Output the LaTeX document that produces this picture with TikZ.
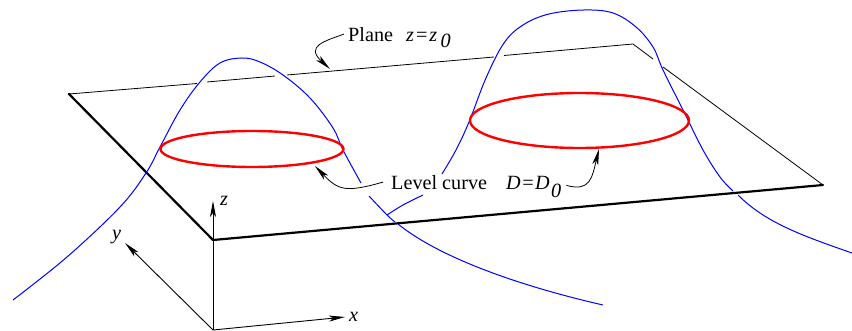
\documentclass[tikz,border=0pt]{standalone}
\usepackage{fontspec}
\setmainfont{Liberation Serif}
\usetikzlibrary{arrows.meta}
\tikzset{
  lbl/.style={anchor=base west,inner sep=0pt,font=\fontsize{20.2}{22}\selectfont},
  lblit/.style={lbl,font=\fontsize{20.2}{22}\selectfont\itshape},
  edgethin/.style={black,line width=0.8pt},
  edgethick/.style={black,line width=2.2pt,line cap=round,line join=round},
  profile/.style={blue,line width=1pt},
  levelcurve/.style={red,line width=2.4pt},
  axis/.style={black,line width=0.9pt,-{Stealth[length=16pt,width=6pt,inset=4pt]}},
  leader/.style={black,line width=0.8pt,-{Stealth[length=16pt,width=6pt,inset=4pt]}}
}
\begin{document}
\begin{tikzpicture}[x=1pt,y=-1pt]
  \useasboundingbox (0,0) rectangle (852,331);

  % --- Plane corners ---
  \coordinate (pA) at (69,94);
  \coordinate (pB) at (633,44);
  \coordinate (pC) at (823,185);
  \coordinate (pD) at (213,240);

  % --- Plane, back edges with breaks ---
  \draw[edgethin] (pA) -- (197,83.5);
  \draw[edgethin] (207,82) -- (275,76);
  \draw[edgethin] (287,75) -- (494,57);
  \draw[edgethin] (504,55.5) -- (pB) -- (653,59);
  \draw[edgethin] (663,67) -- (pC);

  % --- Plane, front edges ---
  \draw[edgethick] (pA) -- (pD) -- (pC);

  % --- Left profile ---
  \draw[profile] plot[smooth,tension=0.6] coordinates {
    (13,300) (67,257) (120,207) (146,173) (160,147) (180,110) (200,82)
    (220,63) (242,58) (260,62) (283,75) (310,98) (333,128) (343,150) (361,183)};
  \draw[profile] plot[smooth,tension=0.6] coordinates {
    (369,196) (387,215) (395,222)};
  \draw[profile] (398,224) .. controls (440,258) and (520,286) .. (603,305);

  % --- Right profile ---
  \draw[profile] plot[smooth,tension=0.6] coordinates {
    (387,215) (403,205) (423,195)};
  \draw[profile] plot[smooth,tension=0.6] coordinates {
    (442,174) (456,150) (469,122) (486,78) (504,43) (523,25) (549,14)
    (584,10) (613,13) (636,27) (653,47) (663,70) (683,110) (703,150)
    (720,177) (733,191)};
  \draw[profile] (738,195) .. controls (765,222) and (800,235) .. (852,253);

  % --- Level curves ---
  \draw[levelcurve] (252,149) ellipse (91.5 and 18);
  \draw[levelcurve] (579.5,120.5) ellipse (109.5 and 27.5);

  % --- Axes ---
  \coordinate (orig) at (213,330);
  \coordinate (zEnd) at (213,201);
  \coordinate (yEnd) at (125,243);
  \coordinate (xEnd) at (345,317);
  \draw[axis] (orig) -- (zEnd);
  \draw[axis] (orig) -- (yEnd);
  \draw[axis] (orig) -- (xEnd);
  \node[lblit] (zLab) at (220,206) {z};
  \node[lblit] (yLab) at (112,240) {y};
  \node[lblit] (xLab) at (349,321) {x};

  % --- Labels ---
  \node[lbl] (planeLab) at (348,42) {Plane};
  \node[lbl] (planeEq) at (406,42) {\textit{z}\hspace{2pt}=\hspace{2pt}\textit{z}};
  \node[lblit] (planeSub) at (440.5,48) {0};
  \node[lbl] (levelLab) at (391,190) {Level curve};
  \node[lbl] (levelEq) at (506,190) {\textit{D}\hspace{1.5pt}=\hspace{1.5pt}\textit{D}};
  \node[lblit] (levelSub) at (551,198) {0};

  % --- Leaders ---
  \coordinate (planePt) at (330,69);
  \coordinate (leftPt) at (315,166);
  \coordinate (rightPt) at (599,149);
  \draw[leader] (planeLab.west) ++(-4,-1) coordinate (planeOut)
       .. controls (325,41) and (305,46) .. (planePt);
  \draw[leader] (levelLab.west) ++(-8,-1) coordinate (levelOut)
       .. controls (345,193) and (338,190) .. (leftPt);
  \draw[leader] (levelSub.east) ++(5,-6) coordinate (subOut)
       .. controls (590,192) and (592,178) .. (rightPt);
\end{tikzpicture}
\end{document}
